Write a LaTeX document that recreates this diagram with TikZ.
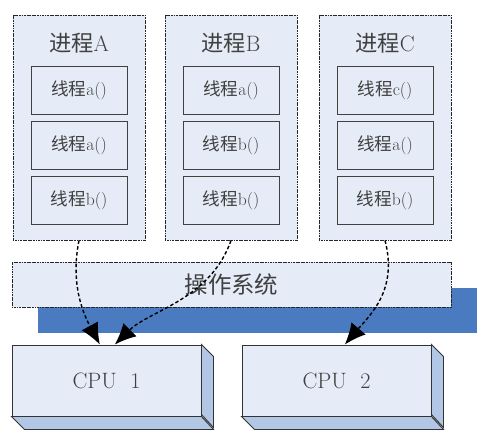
\documentclass[tikz,border=0pt]{standalone}
\usepackage{fontspec}
\newfontfamily\cjk{Noto Sans CJK SC}
\usetikzlibrary{arrows.meta}
\definecolor{paleblue}{HTML}{E6ECF7}
\definecolor{sideblue}{HTML}{B2C6E6}
\definecolor{osblue}{HTML}{4A7BC1}
\tikzset{
  procbox/.style={draw=black!85,dash pattern=on 1pt off 0.4pt,thick,fill=paleblue,minimum width=3.96cm,minimum height=6.75cm},
  threadbox/.style={draw=black!75,thick,fill=paleblue,minimum width=2.88cm,minimum height=1.44cm,text=black!75,font=\fontsize{15}{18}\selectfont},
  cpubox/.style={draw=black!80,thick,fill=paleblue,minimum width=5.67cm,minimum height=2.13cm,text=black!75,font=\fontsize{19}{22}\selectfont},
  sched/.style={very thick,dash pattern=on 3pt off 2pt,-{Latex[length=18pt,width=16pt]}}
}
\begin{document}
\begin{tikzpicture}[x=0.03cm,y=-0.03cm]
\useasboundingbox (0,0) rectangle (486,440);
% processes and their threads
\foreach \n/\x/\p/\ta/\tb/\tc in {pa/79/A/a/a/b,pb/231/B/a/b/b,pc/385/C/c/a/b}{
  \node[procbox] (\n) at (\x,127.5) {};
  \node[text=black!75,font=\fontsize{19}{22}\selectfont] (\n t) at (\x,43) {{\cjk 进程}\p};
  \node[threadbox] (\n1) at (\x,90) {{\cjk 线程}\ta()};
  \node[threadbox] (\n2) at (\x,145) {{\cjk 线程}\tb()};
  \node[threadbox] (\n3) at (\x,200) {{\cjk 线程}\tc()};
}
% operating system
\fill[osblue] (38,288) rectangle (477,333);
\node[draw=black!85,dash pattern=on 1pt off 0.4pt,thick,fill=paleblue,minimum width=13.17cm,minimum height=1.35cm,text=black!75,font=\cjk\fontsize{20}{24}\selectfont] (os) at (231.5,284.5) {操作系统};
% cpus
\foreach \n/\x/\k in {cpu1/106.5/1,cpu2/336.5/2}{
  \node[cpubox] (\n) at (\x,380.5) {CPU\ \ \k};
  \draw[black!80,thick,fill=sideblue] (\n.north east) -- ++(12,12) -- ++(0,71) -- ++(-12,-13) -- cycle;
  \draw[black!80,thick,fill=sideblue] (\n.south west) -- ++(13,13) -- ++(189,0) -- (\n.south east) -- cycle;
}
% scheduling
\draw[sched] (pa.south) .. controls (70,285) and (84,315) .. ([xshift=-0.2cm]cpu1.north);
\draw[sched] (pb.south) .. controls (210,300) and (150,310) .. ([xshift=0.25cm]cpu1.north);
\draw[sched] (pc.south) .. controls (398,290) and (370,315) .. ([xshift=0.25cm]cpu2.north);
\end{tikzpicture}
\end{document}
